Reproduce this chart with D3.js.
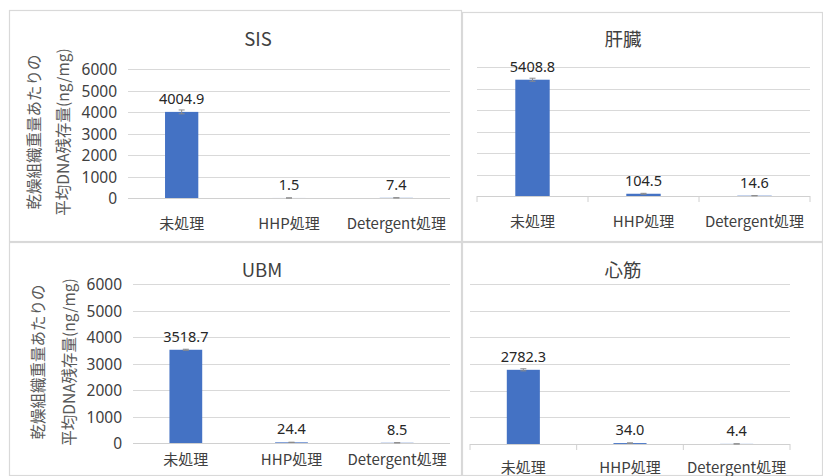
<!DOCTYPE html>
<html><head><meta charset="utf-8">
<script src="https://cdn.jsdelivr.net/npm/d3@7"></script>
<style>body{margin:0;background:#fff;}svg{display:block;}</style>
</head><body>
<svg id="c" width="823" height="476"></svg>
<script>
const categories = ["未処理", "HHP処理", "Detergent処理"];
const titles = ["SIS", "肝臓", "UBM", "心筋"];
const sisValues = [4004.9, 1.5, 7.4];
const liverValues = [5408.8, 104.5, 14.6];
const ubmValues = [3518.7, 24.4, 8.5];
const heartValues = [2782.3, 34.0, 4.4];
const sisErrors = [90, 1, 2];
const liverErrors = [70, 20, 3];
const ubmErrors = [20, 6, 2];
const heartErrors = [40, 8, 1];
const yTicks = [0, 1000, 2000, 3000, 4000, 5000, 6000];
const yTitleLines = ["乾燥組織重量あたりの", "平均DNA残存量(ng/mg)"];

const svg = d3.select("#c");
const JP = "'Noto Sans CJK JP', 'Noto Sans', sans-serif";
const NUM = "'Noto Sans', 'Open Sans', sans-serif";

const panels = [
  {title: titles[0], values: sisValues, errors: sisErrors, box:[9,10,462,242], x:[128,450], y:[69,198], tx:258, ty:38, catY:222, axis:true, ticks:false, yt:[33,62], ytY:132},
  {title: titles[1], values: liverValues, errors: liverErrors, box:[462,12,823,242], x:[477,810], y:[67,196], tx:623, ty:38, catY:220, axis:false, ticks:true},
  {title: titles[2], values: ubmValues, errors: ubmErrors, box:[9,242,462,476], x:[133,450], y:[284,443], tx:262, ty:269, catY:458, axis:true, ticks:false, yt:[37,68], ytY:362},
  {title: titles[3], values: heartValues, errors: heartErrors, box:[462,242,823,476], x:[470,790], y:[284,444], tx:623, ty:269, catY:466, axis:false, ticks:true}
];

panels.forEach(p => {
  const g = svg.append("g");
  g.append("rect").attr("x", p.box[0]+0.5).attr("y", p.box[1]+0.5)
    .attr("width", p.box[2]-p.box[0]-1).attr("height", p.box[3]-p.box[1]-1)
    .attr("fill", "#fff").attr("stroke", "#d9d9d9").attr("stroke-width", 1.2);

  const x = d3.scaleBand().domain(categories).range(p.x).paddingInner(0.69).paddingOuter(0.345);
  const y = d3.scaleLinear().domain([0, 6000]).range([p.y[1], p.y[0]]);

  g.selectAll(".grid").data(yTicks.filter(t => t > 0)).enter().append("line")
    .attr("x1", p.x[0]).attr("x2", p.x[1])
    .attr("y1", d => Math.round(y(d))+0.5).attr("y2", d => Math.round(y(d))+0.5)
    .attr("stroke", "#d9d9d9").attr("stroke-width", 1);
  g.append("line").attr("x1", p.x[0]).attr("x2", p.x[1])
    .attr("y1", Math.round(y(0))+0.5).attr("y2", Math.round(y(0))+0.5)
    .attr("stroke", "#d0d0d0").attr("stroke-width", 1);
  if (p.ticks) {
    const step = x.step();
    const bounds = d3.range(categories.length + 1).map(i => p.x[0] + i * step);
    g.selectAll(".tk").data(bounds).enter().append("line")
      .attr("x1", d => d).attr("x2", d => d)
      .attr("y1", y(0)).attr("y2", y(0) + 6)
      .attr("stroke", "#d0d0d0");
  }

  if (p.axis) {
    const ax = g.append("g").attr("transform", `translate(${p.x[0]-11},0)`)
      .call(d3.axisLeft(y).tickValues(yTicks).tickFormat(d3.format("d")).tickSize(0).tickPadding(0));
    ax.select(".domain").remove();
    ax.selectAll("text").attr("font-family", NUM).attr("font-size", 15.5).attr("fill", "#404040")
      .attr("dy", "0.36em");
    p.yt.forEach((cx, i) => {
      g.append("text").attr("transform", `translate(${cx},${p.ytY}) rotate(-90)`)
        .attr("text-anchor", "middle").attr("dominant-baseline", "central")
        .attr("font-family", JP).attr("font-size", 15.5).attr("fill", "#595959")
        .text(yTitleLines[i]);
    });
  }

  g.append("text").attr("x", p.tx).attr("y", p.ty).attr("text-anchor", "middle")
    .attr("dominant-baseline", "central").attr("font-family", JP).attr("font-size", 18.5)
    .attr("fill", "#404040").text(p.title);

  g.selectAll(".bar").data(p.values).enter().append("rect")
    .attr("x", (d, i) => x(categories[i])).attr("width", x.bandwidth())
    .attr("y", d => y(d)).attr("height", d => y(0) - y(d))
    .attr("fill", "#4472c4");

  p.values.forEach((v, i) => {
    const cx = x(categories[i]) + x.bandwidth() / 2;
    const e = p.errors[i];
    g.append("line").attr("x1", cx).attr("x2", cx).attr("y1", y(v + e)).attr("y2", y(Math.max(0, v - e)))
      .attr("stroke", "#8c8c8c").attr("stroke-width", 1);
    [v + e, Math.max(0, v - e)].forEach(yy => {
      g.append("line").attr("x1", cx - 3).attr("x2", cx + 3).attr("y1", y(yy)).attr("y2", y(yy))
        .attr("stroke", "#8c8c8c").attr("stroke-width", 1);
    });
  });

  g.selectAll(".vl").data(p.values).enter().append("text")
    .attr("x", (d, i) => x(categories[i]) + x.bandwidth() / 2)
    .attr("y", d => y(d) - 14).attr("text-anchor", "middle").attr("dominant-baseline", "central")
    .attr("font-family", NUM).attr("font-size", 14.5).attr("fill", "#262626")
    .text(d => d.toFixed(1));

  g.selectAll(".cl").data(categories).enter().append("text")
    .attr("x", d => x(d) + x.bandwidth() / 2).attr("y", p.catY)
    .attr("text-anchor", "middle").attr("dominant-baseline", "central")
    .attr("font-family", JP).attr("font-size", 15).attr("fill", "#404040")
    .text(d => d);
});
</script>
</body></html>
